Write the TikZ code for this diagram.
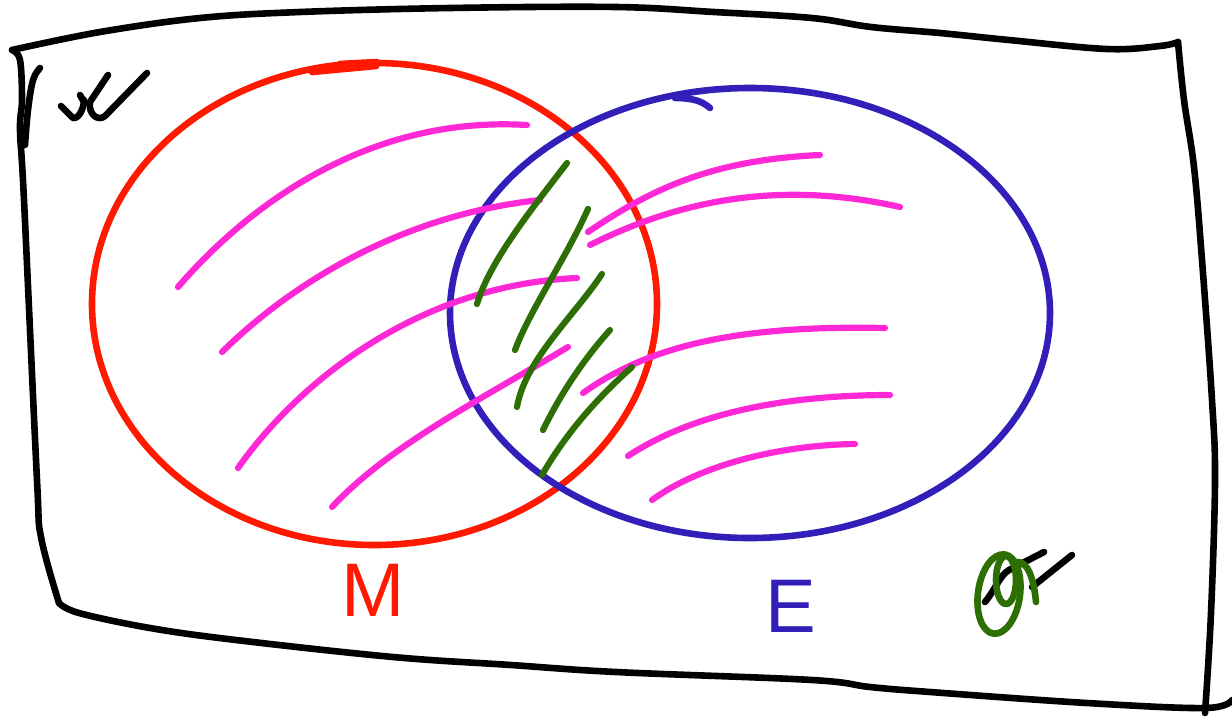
\documentclass[tikz,border=0pt]{standalone}
\usepackage{fontspec}
\setsansfont{Liberation Sans}
\usepackage{tikz}
\definecolor{setred}{RGB}{255, 25, 0}
\definecolor{setblue}{RGB}{50, 30, 185}
\definecolor{hatchpink}{RGB}{255, 40, 215}
\definecolor{hatchgreen}{RGB}{45, 110, 5}

\begin{document}
\begin{tikzpicture}[x=0.5pt, y=-0.5pt,
			inkline/.style={line width=3.3pt, line cap=round, line join=round},
			pinkhatch/.style={inkline, hatchpink, line width=3.1pt},
			greenhatch/.style={inkline, hatchgreen, line width=3.1pt},
			setname/.style={font=\sffamily\fontsize{38}{38}\selectfont, inner sep=0pt}]
			\useasboundingbox (0,0) rectangle (1232,719);
			%Rahmen zeichnen
			\draw[inkline] plot[smooth, tension=0.6] coordinates {(12,50) (100,32) (200,18) (300,12) (450,8) (616,7) (714,12) (812,18) (871,27) (940,33) (1009,40) (1107,49) (1160,46) (1178,42)};
			\draw[inkline] plot[smooth, tension=0.6] coordinates {(1178,42) (1184,100) (1194,167) (1202,260) (1212,400) (1215,480) (1211,613) (1205,713)};
			\draw[inkline] plot[smooth, tension=0.6] coordinates {(59,603) (79,613) (150,628) (236,640) (393,657) (511,665) (616,672) (812,680) (870,687) (930,692) (1087,703) (1205,708) (1232,700)};
			\draw[inkline] plot[smooth, tension=0.6] coordinates {(12,50) (20,60) (22,100) (20,130) (24,200) (37,480) (41,537) (59,603)};
			\draw[inkline] plot[smooth, tension=0.6] coordinates {(40,68) (33,80) (28,110) (25,145)};
			% Grundmenge
			\draw[inkline] (61,106) -- (73,118) .. controls (79,119) and (84,108) .. (84,100);
			\draw[inkline] (80,95) -- (84,102);
			\draw[inkline] (108,75) -- (90,102) .. controls (88,114) and (98,122) .. (105,116) -- (147,73);
			% Mengen M und E
			\draw[inkline, setred] (374.5,304) ellipse [x radius=282.5, y radius=241];
			\draw[inkline, setred] (312,72) -- (376,66) -- (377,62) -- (340,64);
			\draw[inkline, setblue] (750,313) ellipse [x radius=300, y radius=225];
			\draw[inkline, setblue] (675,98) .. controls (695,98) and (703,102) .. (710,108);
			%Schraffur
			\draw[pinkhatch] (178,287) .. controls (240,215) and (360,115) .. (527,125);
			\draw[pinkhatch] (222,352) .. controls (290,285) and (400,215) .. (540,200);
			\draw[pinkhatch] (238,468) .. controls (300,380) and (420,285) .. (577,278);
			\draw[pinkhatch] (332,507) .. controls (390,445) and (480,400) .. (568,347);
			\draw[pinkhatch] (588,232) .. controls (650,190) and (710,160) .. (820,155);
			\draw[pinkhatch] (590,245) .. controls (680,200) and (780,180) .. (900,207);
			\draw[pinkhatch] (583,393) .. controls (650,345) and (740,325) .. (885,328);
			\draw[pinkhatch] (628,456) .. controls (690,415) and (780,395) .. (890,395);
			\draw[pinkhatch] (652,500) .. controls (700,465) and (780,445) .. (855,444);
			\draw[greenhatch] (567,163) .. controls (535,205) and (490,260) .. (477,304);
			\draw[greenhatch] (588,209) .. controls (565,260) and (530,310) .. (515,350);
			\draw[greenhatch] (602,274) .. controls (575,315) and (525,360) .. (517,407);
			\draw[greenhatch] (610,330) .. controls (583,360) and (560,395) .. (543,430);
			\draw[greenhatch] (632,367) .. controls (595,400) and (565,435) .. (542,475);
			%Beschriftung
			\node[setname, setred] (mname) at (373,590) {M};
			\node[setname, setblue] (ename) at (791,606) {E};
			\draw[inkline] (985,602) .. controls (995,590) and (1000,575) .. (1009,570) -- (1044,552);
			\draw[inkline] (1072,555) -- (1032,587);
			\draw[inkline, hatchgreen, rotate around={-8:(999,594)}] (999,594) ellipse [x radius=21, y radius=40];
			\draw[inkline, hatchgreen] (1006,580) ellipse [x radius=10, y radius=24];
			\draw[inkline, hatchgreen] (1016,562) .. controls (1028,560) and (1034,580) .. (1036,602);
		\end{tikzpicture}
\end{document}
